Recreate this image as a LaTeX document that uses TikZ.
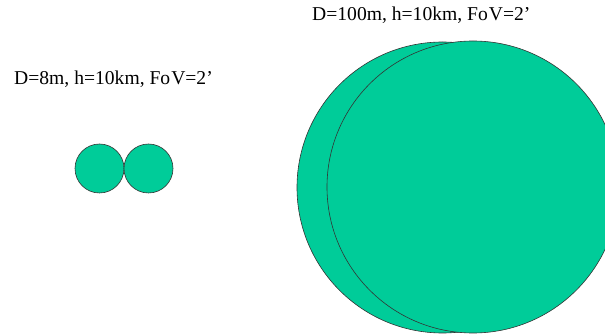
\documentclass[tikz,border=0pt]{standalone}
\usepackage{fontspec}
\setmainfont{Liberation Serif}
\definecolor{disk}{HTML}{00CC99}
\begin{document}
\begin{tikzpicture}[x=1pt,y=-1pt,
  disc/.style={circle,draw=black!80,line width=0.6pt,fill=disk,inner sep=0pt},
  lbl/.style={font=\fontsize{19.6}{22}\selectfont,inner sep=0pt,anchor=base west}]
\useasboundingbox (0,0) rectangle (605,336);
\node[disc,minimum size=49pt] (s1) at (99.5,168.5) {};
\node[disc,minimum size=49pt] (s2) at (148.5,168.5) {};
\node[disc,minimum size=291pt] (b1) at (442.5,187.5) {};
\node[disc,minimum size=292pt] (b2) at (473,187) {};
\node[lbl] (t1) at (14,85) {D=8m, h=10km, Fo\kern1pt V=2’};
\node[lbl] (t2) at (312,21) {D=100m, h=10km, Fo\kern1pt V=2’};
\end{tikzpicture}
\end{document}
